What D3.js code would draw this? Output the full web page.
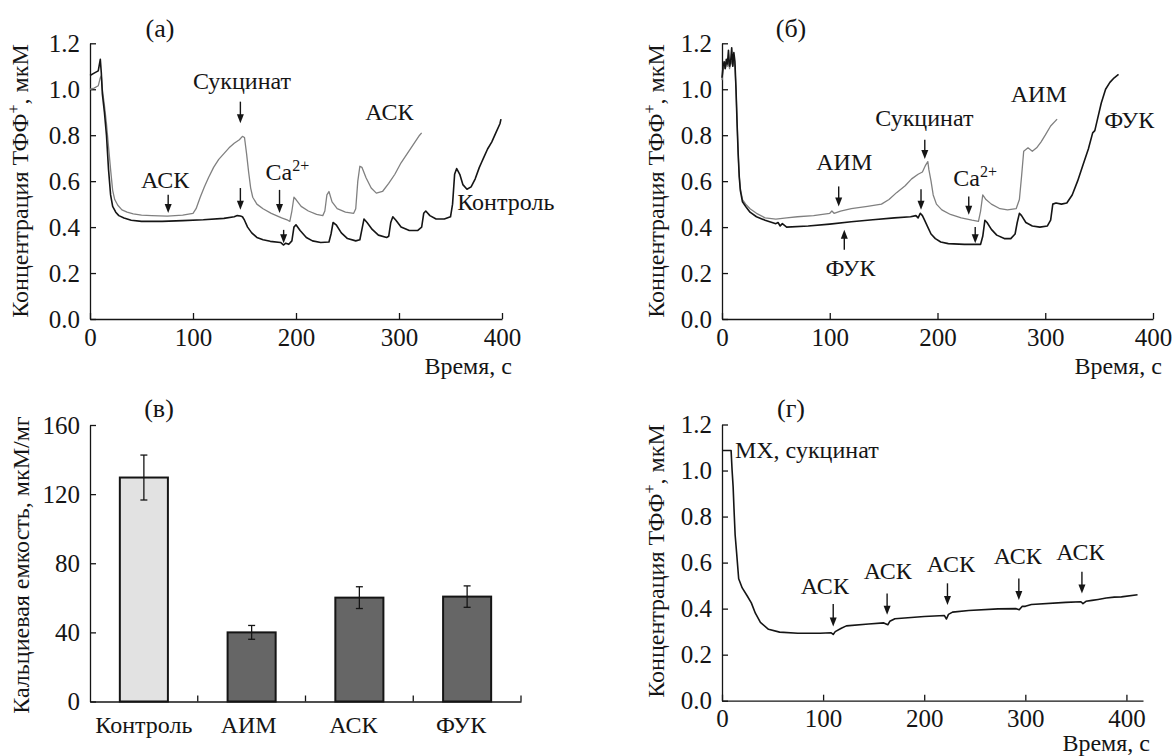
<!DOCTYPE html>
<html>
<head>
<meta charset="utf-8">
<script src="https://cdn.jsdelivr.net/npm/d3@7"></script>
<style>
  body { margin: 0; background: #fff; }
  svg text { font-family: "Liberation Serif", "Times New Roman", Times, "DejaVu Serif", serif; }
</style>
</head>
<body>
<svg width="1172" height="756"></svg>
<script>
// ---- data ----
var timeTicks = [0, 100, 200, 300, 400];
var concTicks = [0, 0.2, 0.4, 0.6, 0.8, 1.0, 1.2];
var capTicks = [0, 40, 80, 120, 160];

// (а) control and АСК traces, [time s, TPP+ uM]
var traceA_control = [[0,1.06],[4,1.07],[8,1.08],[10,1.13],[11,1.07],[12,0.98],[14,0.9],[16,0.8],[18,0.65],[20,0.54],[22,0.49],[25,0.465],[28,0.45],[33,0.44],[40,0.43],[50,0.425],[70,0.425],[90,0.428],[110,0.432],[130,0.438],[140,0.445],[143,0.45],[146,0.448],[148,0.445],[150,0.43],[153,0.4],[157,0.375],[162,0.355],[168,0.345],[175,0.338],[185,0.333],[188,0.322],[190,0.33],[193,0.325],[196,0.34],[198,0.4],[200,0.41],[204,0.385],[210,0.355],[216,0.34],[224,0.333],[232,0.335],[234,0.37],[236,0.42],[239,0.41],[244,0.375],[250,0.35],[258,0.34],[262,0.345],[264,0.39],[266,0.435],[269,0.42],[274,0.39],[280,0.365],[288,0.355],[290,0.36],[292,0.42],[294,0.445],[297,0.43],[302,0.4],[310,0.385],[318,0.385],[322,0.4],[324,0.46],[326,0.47],[330,0.45],[336,0.435],[344,0.435],[350,0.445],[352,0.5],[354,0.63],[356,0.655],[359,0.63],[362,0.585],[366,0.565],[370,0.575],[374,0.61],[378,0.66],[380,0.68],[382,0.7],[386,0.74],[390,0.77],[394,0.81],[398,0.85],[399,0.87]];
var traceA_ask = [[0,1.0],[4,1.005],[8,1.015],[10,1.05],[11,1.058],[12,1.0],[14,0.93],[16,0.85],[18,0.75],[20,0.65],[22,0.56],[24,0.52],[27,0.495],[31,0.475],[36,0.465],[42,0.458],[50,0.452],[60,0.45],[75,0.448],[90,0.452],[100,0.46],[103,0.48],[107,0.53],[111,0.575],[115,0.615],[120,0.66],[125,0.695],[130,0.72],[135,0.745],[140,0.765],[145,0.78],[148,0.795],[150,0.79],[152,0.72],[154,0.64],[156,0.57],[158,0.53],[162,0.5],[168,0.48],[176,0.46],[186,0.44],[192,0.43],[194,0.425],[196,0.47],[198,0.53],[200,0.52],[205,0.49],[212,0.47],[220,0.455],[226,0.45],[228,0.47],[230,0.54],[232,0.555],[235,0.51],[240,0.48],[248,0.465],[256,0.46],[258,0.48],[260,0.6],[262,0.665],[264,0.66],[268,0.615],[273,0.57],[278,0.548],[284,0.555],[290,0.59],[296,0.63],[302,0.68],[308,0.72],[314,0.76],[320,0.8],[322,0.81]];

// (б) ФУК and АИМ traces
var traceB_fuk = [[0,1.05],[1,1.1],[2,1.12],[3,1.09],[4,1.13],[5,1.11],[6,1.17],[7,1.1],[8,1.12],[9,1.18],[10,1.1],[11,1.16],[12,1.12],[13,1.0],[14,0.85],[15,0.72],[16,0.62],[17,0.56],[19,0.51],[22,0.49],[26,0.465],[32,0.445],[40,0.43],[50,0.415],[52,0.42],[54,0.405],[56,0.415],[60,0.4],[80,0.405],[100,0.413],[120,0.423],[140,0.432],[160,0.44],[175,0.445],[180,0.45],[182,0.44],[184,0.46],[186,0.45],[188,0.43],[191,0.4],[194,0.37],[198,0.35],[203,0.335],[210,0.328],[225,0.325],[240,0.325],[242,0.36],[244,0.43],[246,0.42],[250,0.39],[255,0.365],[262,0.35],[268,0.35],[272,0.37],[274,0.42],[276,0.46],[278,0.45],[282,0.42],[288,0.405],[295,0.4],[302,0.405],[305,0.43],[307,0.5],[310,0.505],[315,0.5],[320,0.505],[325,0.54],[330,0.6],[335,0.67],[340,0.74],[344,0.81],[346,0.82],[348,0.86],[352,0.94],[356,1.0],[360,1.03],[364,1.05],[368,1.065]];
var traceB_aim = [[0,1.04],[1,1.08],[2,1.1],[3,1.09],[4,1.11],[5,1.1],[6,1.12],[7,1.09],[8,1.11],[9,1.12],[10,1.1],[11,1.13],[12,1.1],[13,1.0],[14,0.86],[15,0.72],[16,0.62],[17,0.57],[19,0.52],[22,0.5],[26,0.48],[32,0.46],[40,0.44],[50,0.435],[60,0.44],[70,0.445],[85,0.45],[100,0.46],[102,0.47],[104,0.46],[110,0.47],[120,0.48],[135,0.49],[148,0.5],[155,0.52],[162,0.55],[170,0.58],[176,0.61],[182,0.63],[186,0.64],[189,0.67],[191,0.685],[192,0.65],[194,0.6],[196,0.54],[199,0.5],[204,0.475],[212,0.455],[222,0.44],[232,0.43],[238,0.425],[240,0.47],[242,0.54],[245,0.52],[250,0.5],[258,0.48],[265,0.475],[273,0.48],[276,0.52],[278,0.62],[280,0.73],[284,0.745],[288,0.73],[292,0.745],[296,0.77],[300,0.8],[305,0.84],[311,0.87]];

// (в) calcium capacity, uM/mg
var groups = ["Контроль", "АИМ", "АСК", "ФУК"];
var capacity = [129.6, 40, 60.1, 60.7];
var capacityErr = [13, 4, 6.3, 6.2];

// (г) ASK additions trace
var traceG = [[0,1.087],[9,1.087],[10,1.0],[11,0.93],[12,0.82],[13,0.72],[14.5,0.64],[16.5,0.53],[20,0.49],[25,0.455],[29,0.425],[33,0.38],[38,0.34],[46,0.31],[57,0.298],[75,0.293],[97,0.293],[108,0.295],[110,0.288],[112,0.3],[118,0.315],[123,0.325],[145,0.333],[160,0.338],[164,0.33],[166,0.345],[171,0.356],[200,0.366],[220,0.37],[222,0.355],[224,0.375],[228,0.385],[244,0.392],[273,0.399],[291,0.4],[294,0.395],[297,0.41],[300,0.41],[306,0.418],[340,0.427],[355,0.43],[357,0.422],[360,0.432],[366,0.436],[372,0.44],[380,0.446],[388,0.45],[395,0.451],[411,0.46]];

// annotations: label text at [time, conc] and arrows [time, tail, tip]
var labelsA = [["АСК",73,0.572,"middle"],["Сукцинат",147.6,1.0,"middle"],["АСК",290.7,0.864,"middle"],["Ca",170.5,0.606,"start","2+"],["Контроль",356.6,0.475,"start"]];
var arrowsA = [[75.9,0.541,0.461],[146,0.946,0.852],[146,0.57,0.475],[184,0.562,0.461],[188,0.388,0.33]];
var labelsB = [["АИМ",113.5,0.649,"middle"],["ФУК",119.3,0.186,"middle"],["Сукцинат",187.8,0.84,"middle"],["Ca",214.6,0.577,"start","2+"],["АИМ",294,0.946,"middle"],["ФУК",378,0.833,"middle"]];
var arrowsB = [[108.3,0.577,0.49],[113.5,0.301,0.388],[188.2,0.78,0.696],[184.7,0.565,0.475],[229,0.533,0.454],[235,0.4,0.33]];
var labelsG = [["МХ, сукцинат",12.8,1.056,"start"],["АСК",101.7,0.462,"middle"],["АСК",164,0.527,"middle"],["АСК",226.4,0.56,"middle"],["АСК",292.5,0.596,"middle"],["АСК",354.5,0.611,"middle"]];
var arrowsG = [[110,0.42,0.322],[163.3,0.466,0.373],[223,0.51,0.416],[293.6,0.531,0.4375],[356,0.56,0.466]];

// ---- drawing ----
var svg = d3.select("svg");
var INK = "#151515";
var FS = 25;

function styleAxis(g) {
  g.attr("font-family", null).attr("font-size", FS);
  g.selectAll(".domain").attr("stroke", INK).attr("stroke-width", 1.3);
  g.selectAll(".tick line").attr("stroke", INK).attr("stroke-width", 1.3);
  g.selectAll(".tick text").attr("fill", INK);
}

function yTitle(x, y, parts) {
  var t = svg.append("text")
    .attr("transform", "translate(" + x + "," + y + ") rotate(-90)")
    .attr("text-anchor", "middle").attr("font-size", 24).attr("fill", INK);
  t.append("tspan").text(parts[0]);
  if (parts.length > 1) {
    t.append("tspan").attr("dy", -9).attr("font-size", 16).text(parts[1]);
    t.append("tspan").attr("dy", 9).text(parts[2]);
  }
}

function plainText(x, y, str, anchor, size) {
  svg.append("text").attr("x", x).attr("y", y).attr("text-anchor", anchor || "middle")
    .attr("font-size", size || 24).attr("fill", INK).text(str);
}

function arrow(g, X, y0, y1) {
  var s = y1 > y0 ? 1 : -1;
  g.append("line").attr("x1", X).attr("x2", X).attr("y1", y0).attr("y2", y1 - 7 * s)
    .attr("stroke", INK).attr("stroke-width", 1.4);
  g.append("path")
    .attr("d", "M" + X + "," + y1 + "L" + (X - 3.5) + "," + (y1 - 9 * s) + "L" + (X + 3.5) + "," + (y1 - 9 * s) + "Z")
    .attr("fill", INK);
}

function tracePanel(o) {
  var x = d3.scaleLinear().domain(o.xDomain).range(o.xRange);
  var y = d3.scaleLinear().domain([0, 1.2]).range(o.yRange);
  var g = svg.append("g");

  g.append("g").attr("transform", "translate(0," + o.yRange[0] + ")")
    .call(d3.axisBottom(x).tickValues(timeTicks).tickSizeInner(-6).tickSizeOuter(0).tickPadding(9))
    .call(styleAxis);
  g.append("g").attr("transform", "translate(" + o.xRange[0] + ",0)")
    .call(d3.axisLeft(y).tickValues(concTicks).tickFormat(d3.format(".1f")).tickSizeInner(-6).tickSizeOuter(0).tickPadding(10))
    .call(styleAxis);

  var line = d3.line().x(function(d) { return x(d[0]); }).y(function(d) { return y(d[1]); });
  o.series.forEach(function(s) {
    g.append("path").datum(s.data).attr("d", line).attr("fill", "none")
      .attr("stroke", s.color).attr("stroke-width", s.width).attr("stroke-linejoin", "round");
  });

  o.labels.forEach(function(l) {
    var t = g.append("text").attr("x", x(l[1])).attr("y", y(l[2])).attr("text-anchor", l[3])
      .attr("font-size", 24).attr("fill", INK).text(l[0]);
    if (l[4]) t.append("tspan").attr("dy", -9).attr("font-size", 16).text(l[4]);
  });
  o.arrows.forEach(function(a) { arrow(g, x(a[0]), y(a[1]), y(a[2])); });
}

// (а)
tracePanel({
  xDomain: [0, 400], xRange: [90, 502], yRange: [319, 43.3],
  series: [{data: traceA_ask, color: "#808080", width: 1.3}, {data: traceA_control, color: INK, width: 1.6}],
  labels: labelsA, arrows: arrowsA
});
// (б)
tracePanel({
  xDomain: [0, 400], xRange: [722, 1153], yRange: [319, 43.3],
  series: [{data: traceB_aim, color: "#808080", width: 1.3}, {data: traceB_fuk, color: INK, width: 1.6}],
  labels: labelsB, arrows: arrowsB
});
// (г)
tracePanel({
  xDomain: [0, 416.4], xRange: [722, 1143], yRange: [700.7, 424.5],
  series: [{data: traceG, color: INK, width: 1.6}],
  labels: labelsG, arrows: arrowsG
});

// (в) bar chart
var xv = d3.scaleBand().domain(groups).range([90, 521]).paddingInner(0.554).paddingOuter(0.277);
var yv = d3.scaleLinear().domain([0, 160]).range([701.5, 425]);
var gv = svg.append("g");

gv.selectAll("rect.bar").data(groups).enter().append("rect")
  .attr("class", "bar")
  .attr("x", function(d) { return xv(d); })
  .attr("y", function(d, i) { return yv(capacity[i]); })
  .attr("width", xv.bandwidth())
  .attr("height", function(d, i) { return yv(0) - yv(capacity[i]); })
  .attr("fill", function(d, i) { return i === 0 ? "#e2e2e2" : "#666666"; })
  .attr("stroke", INK).attr("stroke-width", 2);

var err = gv.selectAll("g.err").data(groups).enter().append("g").attr("class", "err")
  .attr("transform", function(d) { return "translate(" + (xv(d) + xv.bandwidth() / 2) + ",0)"; });
err.append("line").attr("y1", function(d, i) { return yv(capacity[i] - capacityErr[i]); })
  .attr("y2", function(d, i) { return yv(capacity[i] + capacityErr[i]); })
  .attr("stroke", INK).attr("stroke-width", 1.3);
[-1, 1].forEach(function(sg) {
  err.append("line").attr("x1", -3.5).attr("x2", 3.5)
    .attr("y1", function(d, i) { return yv(capacity[i] + sg * capacityErr[i]); })
    .attr("y2", function(d, i) { return yv(capacity[i] + sg * capacityErr[i]); })
    .attr("stroke", INK).attr("stroke-width", 1.3);
});

gv.append("g").attr("transform", "translate(0," + yv(0) + ")")
  .call(d3.axisBottom(xv).tickSize(0).tickPadding(14))
  .call(styleAxis)
  .selectAll(".tick text").attr("font-size", 24).attr("dx", function(d, i) { return -3 * Math.min(i, 2); });
gv.selectAll(".cell-tick").data(groups).enter().append("line").attr("class", "cell-tick")
  .attr("x1", function(d, i) { return 90 + (i + 1) * xv.step(); })
  .attr("x2", function(d, i) { return 90 + (i + 1) * xv.step(); })
  .attr("y1", yv(0)).attr("y2", yv(0) - 6)
  .attr("stroke", INK).attr("stroke-width", 1.3);
gv.append("g").attr("transform", "translate(90,0)")
  .call(d3.axisLeft(yv).tickValues(capTicks).tickFormat(d3.format("d")).tickSizeInner(-6).tickSizeOuter(0).tickPadding(10))
  .call(styleAxis);

// titles
plainText(160, 37, "(а)", "middle", 26);
plainText(791, 37, "(б)", "middle", 26);
plainText(159, 417, "(в)", "middle", 26);
plainText(791, 417, "(г)", "middle", 26);
plainText(512, 374, "Время, с", "end");
plainText(1162, 374, "Время, с", "end");
plainText(1150, 751, "Время, с", "end");
yTitle(28, 181, ["Концентрация ТФФ", "+", ", мкМ"]);
yTitle(664, 181, ["Концентрация ТФФ", "+", ", мкМ"]);
yTitle(664, 561, ["Концентрация ТФФ", "+", ", мкМ"]);
yTitle(29, 565, ["Кальциевая емкость, мкМ/мг"]);
</script>
</body>
</html>
